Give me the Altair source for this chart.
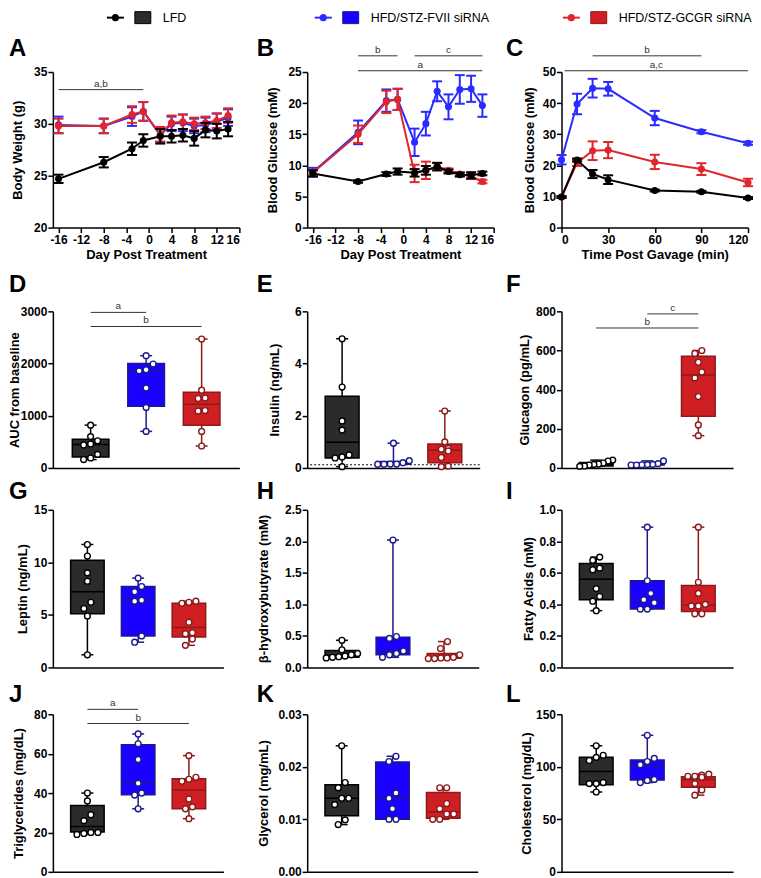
import altair as alt
import pandas as pd

FONT = "Liberation Sans"
GROUPS = ["LFD", "HFD/STZ-FVII siRNA", "HFD/STZ-GCGR siRNA"]
LINE_COLORS = ["#000000", "#2b2bff", "#e0262b"]
BOX_FILL = ["#2b2b2b", "#1a00ff", "#d01f22"]
BOX_EDGE = ["#000000", "#1c1a8c", "#8c1a1a"]
SIG_COLOR = "#333333"

# ---------------- A: body weight ----------------
A_DAYS = [-16, -8, -3, -1, 2, 4, 6, 8, 10, 12, 14]
A_LFD = [24.7, 26.3, 27.6, 28.4, 28.8, 28.8, 28.9, 28.6, 29.4, 29.3, 29.5]
A_LFD_SEM = [0.4, 0.5, 0.6, 0.6, 0.7, 0.6, 0.6, 0.7, 0.7, 0.7, 0.7]
A_FVII = [29.9, 29.8, 30.7, 31.2, 28.9, 30.0, 30.1, 29.8, 29.9, 30.2, 30.6]
A_FVII_SEM = [0.8, 0.7, 0.9, 0.9, 0.7, 0.7, 0.8, 0.7, 0.7, 0.8, 0.8]
A_GCGR = [29.8, 29.8, 30.9, 31.2, 29.0, 30.1, 30.2, 30.0, 30.1, 30.3, 30.8]
A_GCGR_SEM = [0.7, 0.7, 0.8, 0.9, 0.7, 0.7, 0.7, 0.6, 0.6, 0.7, 0.7]
A_SIG = [(-16, -1, 33.3, "a,b")]

# ---------------- B: blood glucose ----------------
B_DAYS = [-16, -8, -3, -1, 2, 4, 6, 8, 10, 12, 14]
B_LFD = [8.7, 7.4, 8.6, 9.0, 8.8, 9.2, 9.8, 9.0, 8.5, 8.4, 8.7]
B_LFD_SEM = [0.5, 0.2, 0.3, 0.5, 0.6, 0.7, 0.6, 0.3, 0.3, 0.5, 0.3]
B_FVII = [8.9, 15.3, 20.4, 20.6, 13.7, 16.7, 21.9, 19.4, 22.2, 22.3, 19.6]
B_FVII_SEM = [0.7, 1.9, 1.8, 1.7, 2.2, 1.9, 1.6, 2.0, 2.3, 2.1, 1.8]
B_GCGR = [8.8, 15.0, 20.2, 20.6, 8.7, 9.2, 9.8, 9.2, 8.6, 8.2, 7.4]
B_GCGR_SEM = [0.5, 1.4, 1.8, 1.7, 1.4, 1.4, 0.6, 0.3, 0.3, 0.4, 0.3]
B_SIG = [(-8, -1, 27.6, "b"), (2, 14, 27.6, "c"), (-8, 14, 25.2, "a")]

# ---------------- C: OGTT ----------------
C_TIME = [0, 10, 20, 30, 60, 90, 120]
C_LFD = [9.8, 21.7, 17.2, 15.4, 11.9, 11.5, 9.5]
C_LFD_SEM = [0.3, 0.5, 1.3, 1.4, 0.3, 0.3, 0.3]
C_FVII = [21.8, 39.7, 44.8, 44.6, 35.2, 30.8, 27.1]
C_FVII_SEM = [1.5, 3.3, 3.0, 2.2, 2.3, 0.5, 0.5]
C_GCGR = [9.8, 20.8, 24.7, 24.9, 21.1, 18.8, 14.5]
C_GCGR_SEM = [0.3, 1.0, 3.0, 2.6, 2.3, 1.9, 1.2]
C_SIG = [(20, 90, 55.2, "b"), (2, 120, 50.4, "a,c")]

# ---------------- box panels: points and [q1, median, q3, min, max] ----------------
D_LFD = [820, 600, 520, 460, 440, 260, 190, 160]
D_FVII = [2150, 1990, 1880, 1860, 1530, 1160, 700]
D_GCGR = [2470, 1490, 1340, 1330, 1100, 1090, 700, 420]
D_BOX = [[210, 450, 550, 160, 820], [1180, 1860, 2000, 700, 2150], [820, 1220, 1450, 420, 2470]]
D_SIG = [(0, 1, 2980, "a"), (0, 2, 2710, "b")]

E_LFD = [4.95, 3.1, 1.8, 1.45, 0.5, 0.42, 0.38, 0.05]
E_FVII = [0.95, 0.28, 0.2, 0.15, 0.15, 0.14, 0.14]
E_GCGR = [2.18, 1.0, 0.75, 0.72, 0.65, 0.4, 0.07, 0.05]
E_BOX = [[0.38, 0.98, 2.75, 0.05, 4.95], [0.14, 0.15, 0.25, 0.14, 0.95], [0.2, 0.68, 0.92, 0.05, 2.18]]
E_LIMIT = 0.12

F_LFD = [40, 35, 25, 20, 18, 15, 10, 8]
F_FVII = [36, 22, 18, 17, 16, 15, 15]
F_GCGR = [600, 585, 540, 490, 460, 365, 220, 165]
F_BOX = [[10, 19, 28, 8, 40], [15, 17, 25, 15, 36], [264, 475, 571, 165, 600]]
F_SIG = [(1, 2, 787, "c"), (0, 2, 715, "b")]

G_LFD = [11.7, 10.6, 9.0, 8.2, 6.2, 5.6, 4.9, 1.2]
G_FVII = [8.5, 7.7, 7.2, 6.4, 6.3, 3.0, 2.4]
G_GCGR = [6.3, 6.2, 6.1, 4.3, 3.3, 3.2, 2.7, 2.1]
G_BOX = [[5.1, 7.2, 10.2, 1.2, 11.7], [3.0, 6.4, 7.7, 2.4, 8.5], [2.9, 3.8, 6.1, 2.1, 6.3]]

H_LFD = [0.43, 0.28, 0.22, 0.2, 0.18, 0.17, 0.16, 0.15]
H_FVII = [2.02, 0.49, 0.46, 0.26, 0.22, 0.2, 0.16]
H_GCGR = [0.41, 0.3, 0.2, 0.16, 0.15, 0.15, 0.14, 0.14]
H_BOX = [[0.16, 0.19, 0.27, 0.15, 0.43], [0.2, 0.26, 0.48, 0.16, 2.02], [0.145, 0.155, 0.22, 0.14, 0.41]]

I_LFD = [0.70, 0.68, 0.63, 0.62, 0.50, 0.45, 0.42, 0.36]
I_FVII = [0.89, 0.55, 0.47, 0.43, 0.41, 0.37, 0.37]
I_GCGR = [0.89, 0.54, 0.47, 0.40, 0.39, 0.39, 0.34, 0.34]
I_BOX = [[0.43, 0.56, 0.66, 0.36, 0.70], [0.37, 0.43, 0.55, 0.37, 0.89], [0.355, 0.395, 0.52, 0.34, 0.89]]

J_LFD = [40, 36, 29, 26, 20, 20, 19.5, 19]
J_FVII = [70, 65, 57, 45, 40, 39, 32]
J_GCGR = [59, 48, 47, 46, 37, 33, 32, 27]
J_BOX = [[20.2, 23, 33.7, 19, 40], [39.1, 45, 64.5, 32, 70], [32, 41.5, 47.3, 27, 59]]
J_SIG = [(0, 1, 82.5, "a"), (0, 2, 75.3, "b")]

K_LFD = [0.024, 0.017, 0.016, 0.014, 0.014, 0.0128, 0.0099, 0.009]
K_FVII = [0.022, 0.021, 0.015, 0.014, 0.012, 0.010, 0.010]
K_GCGR = [0.016, 0.016, 0.013, 0.012, 0.011, 0.011, 0.010, 0.010]
K_BOX = [[0.0107, 0.014, 0.0166, 0.009, 0.024], [0.010, 0.014, 0.0209, 0.010, 0.022],
         [0.0102, 0.0114, 0.0151, 0.010, 0.016]]

L_LFD = [120, 111, 109, 106, 85, 84, 84, 76]
L_FVII = [130, 108, 105, 102, 88, 87, 85]
L_GCGR = [93, 92, 91, 91, 90, 84, 78, 73]
L_BOX = [[83, 95.5, 109, 76, 120], [87.5, 101, 106.5, 85, 130], [80.5, 88, 90.5, 73, 93]]

# ---------------- layout ----------------
LETTER_DX = [-44, -50.7, -55.7]
LETTER_BASE = {0: -16.5, 1: -19, 2: -11, 3: -12}
PAD_INNER, PAD_OUTER = 0.34, 0.35
ARIAL = {"L": .556, "F": .611, "D": .722, "H": .722, "/": .278, "S": .667, "T": .611, "Z": .611,
         "-": .333, "V": .667, "I": .278, " ": .278, "s": .5, "i": .222, "R": .722, "N": .722,
         "A": .667, "G": .778, "C": .722}
LEG_SIZE = 12.5


def letter_layer(letter, col, row):
    return alt.Chart(pd.DataFrame({"t": [letter]})).mark_text(
        font=FONT, fontSize=24, fontWeight="bold", align="left", baseline="alphabetic", color="black"
    ).encode(x=alt.value(LETTER_DX[col]), y=alt.value(LETTER_BASE[row]), text="t:N")


def line_panel(letter, col, xs, series, xdom, xticks, xtitle, ydom, yticks, ytitle, ytp, sigs, w, h):
    xsc = alt.Scale(domain=xdom, nice=False, zero=False)
    ysc = alt.Scale(domain=ydom, nice=False, zero=False)
    xax = alt.Axis(values=xticks, title=xtitle, labelExpr="'' + datum.value")
    yax = alt.Axis(values=yticks, title=ytitle, format="d", titlePadding=ytp)

    def X(f):
        return alt.X(f, type="quantitative", scale=xsc, axis=xax)

    def Y(f):
        return alt.Y(f, type="quantitative", scale=ysc, axis=yax)

    layers = []
    for gi in (1, 2, 0):
        means, errs = series[gi]
        df = pd.DataFrame({"x": xs, "m": means,
                           "lo": [m - e for m, e in zip(means, errs)],
                           "hi": [m + e for m, e in zip(means, errs)]})
        c = LINE_COLORS[gi]
        base = alt.Chart(df)
        layers += [
            base.mark_rule(color=c, strokeWidth=2).encode(x=X("x"), y=Y("lo"), y2="hi"),
            base.mark_tick(color=c, orient="horizontal", size=10, thickness=2, opacity=1).encode(x=X("x"), y=Y("lo")),
            base.mark_tick(color=c, orient="horizontal", size=10, thickness=2, opacity=1).encode(x=X("x"), y=Y("hi")),
            base.mark_line(color=c, strokeWidth=2).encode(x=X("x"), y=Y("m")),
            base.mark_point(color=c, filled=True, size=50, opacity=1).encode(x=X("x"), y=Y("m")),
        ]
    sdf = pd.DataFrame({"x1": [s[0] for s in sigs], "x2": [s[1] for s in sigs],
                        "y": [s[2] for s in sigs], "lab": [s[3] for s in sigs]})
    sdf["xm"] = (sdf["x1"] + sdf["x2"]) / 2
    layers.append(alt.Chart(sdf).mark_rule(color=SIG_COLOR, strokeWidth=1).encode(x=X("x1"), x2="x2", y=Y("y")))
    layers.append(alt.Chart(sdf).mark_text(font=FONT, fontSize=10, baseline="bottom", dy=-1, color=SIG_COLOR)
                  .encode(x=X("xm"), y=Y("y"), text="lab:N"))
    layers.append(letter_layer(letter, col, 0))
    return alt.layer(*layers).properties(width=w, height=h)


def swarm(vals, ppu, maxspan, d=7.0):
    order = sorted(range(len(vals)), key=lambda i: vals[i])
    groups = []
    for i in order:
        if groups and abs(vals[i] - vals[groups[-1][0]]) * ppu < d:
            groups[-1].append(i)
        else:
            groups.append([i])
    offs = [0.0] * len(vals)
    for g in groups:
        k = len(g)
        dd = min(d, maxspan / k)
        for j, i in enumerate(g):
            offs[i] = (j - (k - 1) / 2) * dd
    return offs


def box_panel(letter, col, row, vals, stats, ydom, yticks, yfmt, ytitle, ytp, w, h, sigs=None, limit=None):
    step = w / (3 - PAD_INNER + 2 * PAD_OUTER)
    bw = step * (1 - PAD_INNER)
    c0 = PAD_OUTER + (1 - PAD_INNER) / 2
    half = (1 - PAD_INNER) / 2
    xsc = alt.Scale(domain=[-c0, 2 + c0], nice=False, zero=False)
    xax = alt.Axis(labels=False, ticks=False, title=None, domain=True, grid=False)
    ysc = alt.Scale(domain=ydom, nice=False, zero=False)
    yax = alt.Axis(values=yticks, format=yfmt, title=ytitle, titlePadding=ytp)

    def X(f):
        return alt.X(f, type="quantitative", scale=xsc, axis=xax)

    def Y(f):
        return alt.Y(f, type="quantitative", scale=ysc, axis=yax)

    fill = alt.Fill("g:N", scale=alt.Scale(domain=GROUPS, range=BOX_FILL), legend=None)
    stroke = alt.Stroke("g:N", scale=alt.Scale(domain=GROUPS, range=BOX_EDGE), legend=None)
    color = alt.Color("g:N", scale=alt.Scale(domain=GROUPS, range=BOX_EDGE), legend=None)

    bdf = pd.DataFrame({"g": GROUPS, "i": [0, 1, 2],
                        "q1": [s[0] for s in stats], "med": [s[1] for s in stats],
                        "q3": [s[2] for s in stats], "lo": [s[3] for s in stats],
                        "hi": [s[4] for s in stats]})
    bdf["xl"] = bdf["i"] - half
    bdf["xr"] = bdf["i"] + half
    ppu = h / (ydom[1] - ydom[0])
    rows = []
    for gi, v in enumerate(vals):
        offs = swarm(v, ppu, bw + 4)
        for val, o in zip(v, offs):
            rows.append({"g": GROUPS[gi], "v": val, "x": gi + o / step})
    pdf = pd.DataFrame(rows)

    layers = []
    if limit is not None:
        layers.append(alt.Chart(pd.DataFrame({"y": [limit]})).mark_rule(
            color="black", strokeWidth=1, strokeDash=[2, 2]).encode(y=Y("y")))
    b = alt.Chart(bdf)
    layers += [
        b.mark_rule(strokeWidth=1.5).encode(x=X("i"), y=Y("lo"), y2="hi", stroke=stroke),
        b.mark_bar(strokeWidth=1.5, opacity=1).encode(x=X("xl"), x2="xr", y=Y("q1"), y2="q3", fill=fill, stroke=stroke),
        b.mark_tick(orient="horizontal", size=bw, thickness=1.5, opacity=1).encode(x=X("i"), y=Y("med"), color=color),
        b.mark_tick(orient="horizontal", size=12, thickness=1.5, opacity=1).encode(x=X("i"), y=Y("lo"), color=color),
        b.mark_tick(orient="horizontal", size=12, thickness=1.5, opacity=1).encode(x=X("i"), y=Y("hi"), color=color),
        alt.Chart(pdf).mark_point(shape="circle", filled=True, fill="white", size=34, strokeWidth=1.4, opacity=1)
        .encode(x=X("x"), y=Y("v"), stroke=stroke),
    ]
    if sigs:
        sdf = pd.DataFrame({"x1": [s[0] for s in sigs], "x2": [s[1] for s in sigs],
                            "y": [s[2] for s in sigs], "lab": [s[3] for s in sigs]})
        sdf["xm"] = (sdf["x1"] + sdf["x2"]) / 2
        layers.append(alt.Chart(sdf).mark_rule(color=SIG_COLOR, strokeWidth=1).encode(x=X("x1"), x2="x2", y=Y("y")))
        layers.append(alt.Chart(sdf).mark_text(font=FONT, fontSize=10, baseline="bottom", dy=-1, color=SIG_COLOR)
                      .encode(x=X("xm"), y=Y("y"), text="lab:N"))
    layers.append(letter_layer(letter, col, row))
    return alt.layer(*layers).properties(width=w, height=h)


def legend_cell(w, h):
    step = 256
    c0 = 94
    rows = []
    for i, g in enumerate(GROUPS):
        tw = sum(ARIAL.get(ch, 0.556) for ch in g) * LEG_SIZE
        c = c0 + i * step
        t0 = c - (tw - 56) / 2
        rows.append({"g": g, "t0": t0, "l1": t0 - 56, "l2": t0 - 39, "dot": t0 - 47.5, "sq": t0 - 20})
    df = pd.DataFrame(rows)
    lc = alt.Color("g:N", scale=alt.Scale(domain=GROUPS, range=LINE_COLORS), legend=None)
    fill = alt.Fill("g:N", scale=alt.Scale(domain=GROUPS, range=BOX_FILL), legend=None)
    stroke = alt.Stroke("g:N", scale=alt.Scale(domain=GROUPS, range=BOX_EDGE), legend=None)
    base = alt.Chart(df)
    yv = alt.value(6.5)
    return alt.layer(
        base.mark_rule(strokeWidth=2).encode(x=alt.X("l1:Q", scale=None, axis=None), x2="l2", y=yv, color=lc),
        base.mark_point(filled=True, size=50, opacity=1).encode(x=alt.X("dot:Q", scale=None, axis=None), y=yv, color=lc),
        base.mark_point(shape="M-1.333,-1H1.333V1H-1.333Z", size=144, filled=True, strokeWidth=1, opacity=1)
        .encode(x=alt.X("sq:Q", scale=None, axis=None), y=yv, fill=fill, stroke=stroke),
        base.mark_text(font=FONT, fontSize=LEG_SIZE, align="left", baseline="middle", color="black")
        .encode(x=alt.X("t0:Q", scale=None, axis=None), y=yv, text="g:N"),
    ).properties(width=w, height=h)


def spacer(h):
    return alt.Chart(pd.DataFrame({"v": [0]})).mark_point(opacity=0, size=1).encode(
        x=alt.value(0.5), y=alt.value(0.5)).properties(width=1, height=h)


W1, H1 = 187, 156
pA = line_panel("A", 0, A_DAYS, [(A_LFD, A_LFD_SEM), (A_FVII, A_FVII_SEM), (A_GCGR, A_GCGR_SEM)],
                [-17, 16], [-16, -12, -8, -4, 0, 4, 8, 12, 16], "Day Post Treatment",
                [20, 35], [20, 25, 30, 35], "Body Weight (g)", 9.4, A_SIG, W1, H1)
pB = line_panel("B", 1, B_DAYS, [(B_LFD, B_LFD_SEM), (B_FVII, B_FVII_SEM), (B_GCGR, B_GCGR_SEM)],
                [-17, 16], [-16, -12, -8, -4, 0, 4, 8, 12, 16], "Day Post Treatment",
                [0, 25], [0, 5, 10, 15, 20, 25], "Blood Glucose (mM)", 8.4, B_SIG, W1, H1)
pC = line_panel("C", 2, C_TIME, [(C_LFD, C_LFD_SEM), (C_FVII, C_FVII_SEM), (C_GCGR, C_GCGR_SEM)],
                [0, 120], [0, 30, 60, 90, 120], "Time Post Gavage (min)",
                [0, 50], [0, 10, 20, 30, 40, 50], "Blood Glucose (mM)", 6, C_SIG, W1, H1)

pD = box_panel("D", 0, 1, [D_LFD, D_FVII, D_GCGR], D_BOX, [0, 3000], [0, 1000, 2000, 3000], "d",
               "AUC from baseline", -1.5, 187, 157, sigs=D_SIG)
pE = box_panel("E", 1, 1, [E_LFD, E_FVII, E_GCGR], E_BOX, [0, 6], [0, 2, 4, 6], "d",
               "Insulin (ng/mL)", 13, 173, 157, limit=E_LIMIT)
pF = box_panel("F", 2, 1, [F_LFD, F_FVII, F_GCGR], F_BOX, [0, 800], [0, 200, 400, 600, 800], "d",
               "Glucagon (pg/mL)", 3.6, 172, 157, sigs=F_SIG)
pG = box_panel("G", 0, 2, [G_LFD, G_FVII, G_GCGR], G_BOX, [0, 15], [0, 5, 10, 15], "d",
               "Leptin (ng/mL)", 4, 171, 158)
pH = box_panel("H", 1, 2, [H_LFD, H_FVII, H_GCGR], H_BOX, [0, 2.5], [0, 0.5, 1.0, 1.5, 2.0, 2.5], ".1f",
               "β-hydroxybutyrate (mM)", 14, 172, 158)
pI = box_panel("I", 2, 2, [I_LFD, I_FVII, I_GCGR], I_BOX, [0, 1.0], [0, 0.2, 0.4, 0.6, 0.8, 1.0], ".1f",
               "Fatty Acids (mM)", 3.3, 172, 158)
pJ = box_panel("J", 0, 3, [J_LFD, J_FVII, J_GCGR], J_BOX, [0, 80], [0, 20, 40, 60, 80], "d",
               "Triglycerides (mg/dL)", 7.7, 171, 158, sigs=J_SIG)
pK = box_panel("K", 1, 3, [K_LFD, K_FVII, K_GCGR], K_BOX, [0, 0.03], [0, 0.01, 0.02, 0.03], ".2f",
               "Glycerol (mg/mL)", 7.6, 171, 158)
pL = box_panel("L", 2, 3, [L_LFD, L_FVII, L_GCGR], L_BOX, [0, 150], [0, 50, 100, 150], "d",
               "Cholesterol (mg/dL)", 2.5, 172, 158)

cells = [legend_cell(187, 41), spacer(1), spacer(1),
         pA, pB, pC,
         spacer(44), spacer(44), spacer(44),
         pD, pE, pF,
         spacer(2), spacer(2), spacer(2),
         pG, pH, pI,
         spacer(7), spacer(7), spacer(7),
         pJ, pK, pL]

chart = alt.concat(*cells, columns=3, spacing={"row": 20, "column": 68}, bounds="flush", align="each").resolve_scale(
    color="independent", fill="independent", stroke="independent"
).properties(padding=0).configure_view(stroke=None).configure_axis(
    domainColor="black", domainWidth=1.5, tickColor="black", tickWidth=1.5, tickSize=5,
    labelFont=FONT, labelFontWeight="bold", labelFontSize=12, labelColor="black",
    titleFont=FONT, titleFontWeight="bold", titleFontSize=13, titleColor="black", grid=False
).configure_axisX(labelPadding=2, titlePadding=3).configure_axisY(labelPadding=1)

chart.save("out.html", embed_options={"renderer": "svg", "actions": False})
